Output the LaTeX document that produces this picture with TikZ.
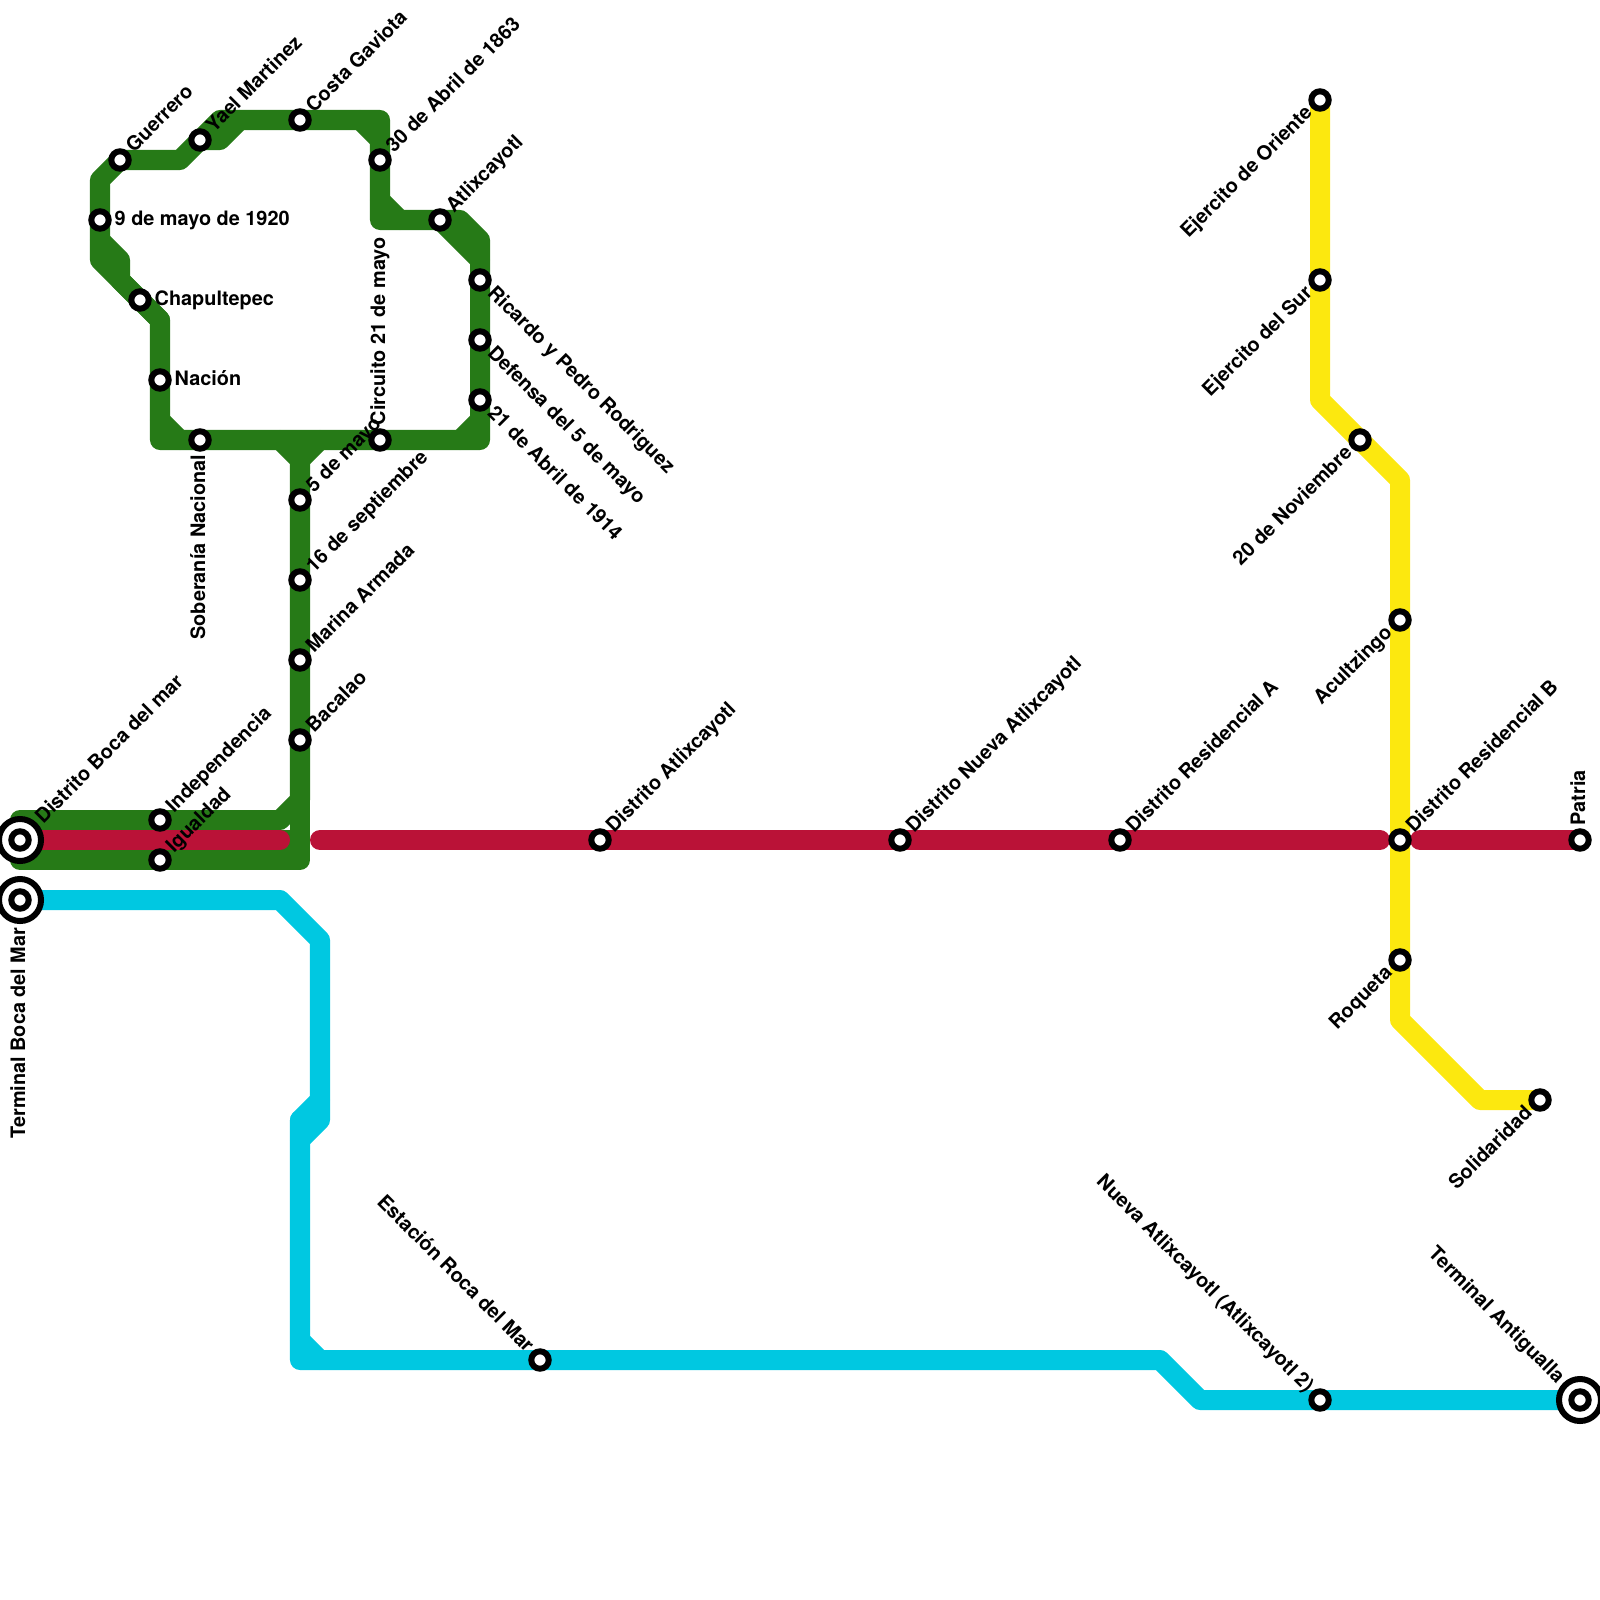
\documentclass[tikz,border=0pt]{standalone}
\usepackage{fontspec}
\setmainfont{TeX Gyre Heros}
\usetikzlibrary{backgrounds}
\definecolor{linegreen}{RGB}{38,122,23}
\definecolor{linered}{RGB}{186,18,55}
\definecolor{linecyan}{RGB}{0,200,225}
\definecolor{lineyellow}{RGB}{252,232,15}

\begin{document}
\begin{tikzpicture}[x=0.01cm, y=-0.01cm,
    stn/.style={circle, draw=black, fill=white, line width=0.6mm, minimum size=1.74mm, inner sep=0pt},
    termring/.style={circle, draw=black, fill=white, line width=0.6mm, minimum size=4.2mm, inner sep=0pt},
    lbl/.style={font=\fontsize{5.65}{6.7}\selectfont\bfseries, inner ysep=0pt, inner xsep=1.4mm, text height=1.44mm, text depth=0.4mm},
    lblne/.style={lbl, rotate=45, anchor=west},
    lblse/.style={lbl, rotate=-45, anchor=west},
    lblsw/.style={lbl, rotate=45, anchor=east},
    lblnw/.style={lbl, rotate=-45, anchor=east},
    lbln/.style={lbl, rotate=90, anchor=west},
    lbls/.style={lbl, rotate=90, anchor=east},
    lble/.style={lbl, anchor=west},
    route/.style={line width=2mm, line cap=round, line join=round}
]
    \useasboundingbox (0,0) rectangle (1600,1600);

    % green stations
    \node[termring] (bocamarring) at (20,840) {};
    \node[stn] (bocamar) at (20,840) {};
    \node[stn] (indep) at (160,820) {};
    \node[stn] (igualdad) at (160,860) {};
    \node[stn] (bacalao) at (300,740) {};
    \node[stn] (marina) at (300,660) {};
    \node[stn] (sept) at (300,580) {};
    \node[stn] (cinco) at (300,500) {};
    \node[stn] (soberania) at (200,440) {};
    \node[stn] (nacion) at (160,380) {};
    \node[stn] (chapul) at (140,300) {};
    \node[stn] (nueve) at (100,220) {};
    \node[stn] (guerrero) at (120,160) {};
    \node[stn] (yael) at (200,140) {};
    \node[stn] (costa) at (300,120) {};
    \node[stn] (treinta) at (380,160) {};
    \node[stn] (atlix) at (440,220) {};
    \node[stn] (ricardo) at (480,280) {};
    \node[stn] (defensa) at (480,340) {};
    \node[stn] (abril) at (480,400) {};
    \node[stn] (circuito) at (380,440) {};

    % red stations
    \node[stn] (datlix) at (600,840) {};
    \node[stn] (dnueva) at (900,840) {};
    \node[stn] (resa) at (1120,840) {};
    \node[stn] (resb) at (1400,840) {};
    \node[stn] (patria) at (1580,840) {};

    % yellow stations
    \node[stn] (oriente) at (1320,100) {};
    \node[stn] (sur) at (1320,280) {};
    \node[stn] (noviembre) at (1360,440) {};
    \node[stn] (acult) at (1400,620) {};
    \node[stn] (roqueta) at (1400,960) {};
    \node[stn] (solid) at (1540,1100) {};

    % cyan stations
    \node[termring] (tbocaring) at (20,900) {};
    \node[stn] (tboca) at (20,900) {};
    \node[stn] (roca) at (540,1360) {};
    \node[stn] (nueva) at (1320,1400) {};
    \node[termring] (antigring) at (1580,1400) {};
    \node[stn] (antig) at (1580,1400) {};

    % labels
    \node[lblne, inner xsep=2.7mm] (bocamarl) at (bocamar) {Distrito Boca del mar};
    \node[lblne] (indepl) at (indep) {Independencia};
    \node[lblne] (igualdadl) at (igualdad) {Igualdad};
    \node[lblne] (bacalaol) at (bacalao) {Bacalao};
    \node[lblne] (marinal) at (marina) {Marina Armada};
    \node[lblne] (septl) at (sept) {16 de septiembre};
    \node[lblne] (cincol) at (cinco) {5 de mayo};
    \node[lbls] (soberanial) at (soberania) {Soberanía Nacional};
    \node[lble] (nacionl) at (nacion) {Nación};
    \node[lble] (chapull) at (chapul) {Chapultepec};
    \node[lble] (nuevel) at (nueve) {9 de mayo de 1920};
    \node[lblne] (guerrerol) at (guerrero) {Guerrero};
    \node[lblne] (yaell) at (yael) {Yael Martinez};
    \node[lblne] (costal) at (costa) {Costa Gaviota};
    \node[lblne] (treintal) at (treinta) {30 de Abril de 1863};
    \node[lblne] (atlixl) at (atlix) {Atlixcayotl};
    \node[lblse] (ricardol) at (ricardo) {Ricardo y Pedro Rodriguez};
    \node[lblse] (defensal) at (defensa) {Defensa del 5 de mayo};
    \node[lblse] (abrill) at (abril) {21 de Abril de 1914};
    \node[lbln] (circuitol) at (circuito) {Circuito 21 de mayo};
    \node[lblne] (datlixl) at (datlix) {Distrito Atlixcayotl};
    \node[lblne] (dnueval) at (dnueva) {Distrito Nueva Atlixcayotl};
    \node[lblne] (resal) at (resa) {Distrito Residencial A};
    \node[lblne] (resbl) at (resb) {Distrito Residencial B};
    \node[lbln] (patrial) at (patria) {Patria};
    \node[lblsw] (orientel) at (oriente) {Ejercito de Oriente};
    \node[lblsw] (surl) at (sur) {Ejercito del Sur};
    \node[lblsw] (noviembrel) at (noviembre) {20 de Noviembre};
    \node[lblsw] (acultl) at (acult) {Acultzingo};
    \node[lblsw] (roquetal) at (roqueta) {Roqueta};
    \node[lblsw] (solidl) at (solid) {Solidaridad};
    \node[lbls, inner xsep=2.7mm] (tbocal) at (tboca) {Terminal Boca del Mar};
    \node[lblnw] (rocal) at (roca) {Estación Roca del Mar};
    \node[lblnw] (nueval) at (nueva) {Nueva Atlixcayotl (Atlixcayotl 2)};
    \node[lblnw, inner xsep=2.7mm] (antigl) at (antig) {Terminal Antigualla};

    % bends
    \coordinate (ga) at (20,820);
    \coordinate (gb) at (280,820);
    \coordinate (gc) at (300,800);
    \coordinate (gd) at (300,460);
    \coordinate (ge) at (280,440);
    \coordinate (gf) at (320,440);
    \coordinate (gg) at (20,860);
    \coordinate (gh) at (300,860);
    \coordinate (gi) at (300,840);
    \coordinate (gj) at (160,440);
    \coordinate (gk) at (160,320);
    \coordinate (gl) at (100,260);
    \coordinate (gm) at (100,180);
    \coordinate (gn) at (180,160);
    \coordinate (go) at (220,120);
    \coordinate (gp) at (380,120);
    \coordinate (gq) at (380,220);
    \coordinate (gr) at (460,220);
    \coordinate (gs) at (480,240);
    \coordinate (gt) at (480,440);
    \coordinate (gu) at (100,240);
    \coordinate (gv) at (120,260);
    \coordinate (gw) at (120,280);
    \coordinate (gx) at (220,140);
    \coordinate (gy) at (240,120);
    \coordinate (gz) at (360,120);
    \coordinate (gaa) at (380,140);
    \coordinate (gab) at (380,200);
    \coordinate (gac) at (400,220);
    \coordinate (gad) at (480,260);
    \coordinate (gae) at (460,440);
    \coordinate (gaf) at (480,420);
    \coordinate (gag) at (160,420);
    \coordinate (gah) at (180,440);
    \coordinate (ya) at (1320,400);
    \coordinate (yb) at (1400,480);
    \coordinate (yc) at (1400,1020);
    \coordinate (yd) at (1480,1100);
    \coordinate (ra) at (280,840);
    \coordinate (rb) at (320,840);
    \coordinate (rc) at (1380,840);
    \coordinate (rd) at (1420,840);
    \coordinate (ca) at (280,900);
    \coordinate (cb) at (320,940);
    \coordinate (cc) at (320,1120);
    \coordinate (cd) at (300,1140);
    \coordinate (ce) at (300,1120);
    \coordinate (cf) at (320,1100);
    \coordinate (cg) at (300,1360);
    \coordinate (ch) at (300,1340);
    \coordinate (ci) at (320,1360);
    \coordinate (cj) at (1160,1360);
    \coordinate (ck) at (1200,1400);

    \begin{scope}[on background layer]
        \draw[route, linegreen] (ga) -- (gb) -- (gc) -- (gd) -- (ge);
        \draw[route, linegreen] (gd) -- (gf);
        \draw[route, linegreen] (bocamar.center) -- (gi);
        \draw[route, linegreen] (gg) -- (gh) -- (gc);
        \draw[route, linegreen] (gt) -- (gj) -- (gk) -- (gl) -- (gm) -- (guerrero.center) -- (gn) -- (go) -- (gp) -- (gq) -- (gr) -- (gs) -- (gt);
        \draw[route, linegreen] (gu) -- (gv) -- (gw) -- (gk);
        \draw[route, linegreen] (yael.center) -- (gx) -- (gy);
        \draw[route, linegreen] (gz) -- (gaa);
        \draw[route, linegreen] (gab) -- (gac);
        \draw[route, linegreen] (atlix.center) -- (gad);
        \draw[route, linegreen] (gae) -- (gaf);
        \draw[route, linegreen] (gag) -- (gah);

        \draw[route, lineyellow] (oriente.center) -- (ya) -- (yb) -- (yc) -- (yd) -- (solid.center);

        \draw[route, linered] (bocamar.center) -- (ra);
        \draw[route, linered] (rb) -- (rc);
        \draw[route, linered] (rd) -- (patria.center);

        \draw[route, linecyan] (tboca.center) -- (ca) -- (cb) -- (cc) -- (cd);
        \draw[route, linecyan] (ce) -- (cf);
        \draw[route, linecyan] (ce) -- (cg) -- (cj) -- (ck) -- (antig.center);
        \draw[route, linecyan] (ch) -- (ci);
    \end{scope}
\end{tikzpicture}
\end{document}
